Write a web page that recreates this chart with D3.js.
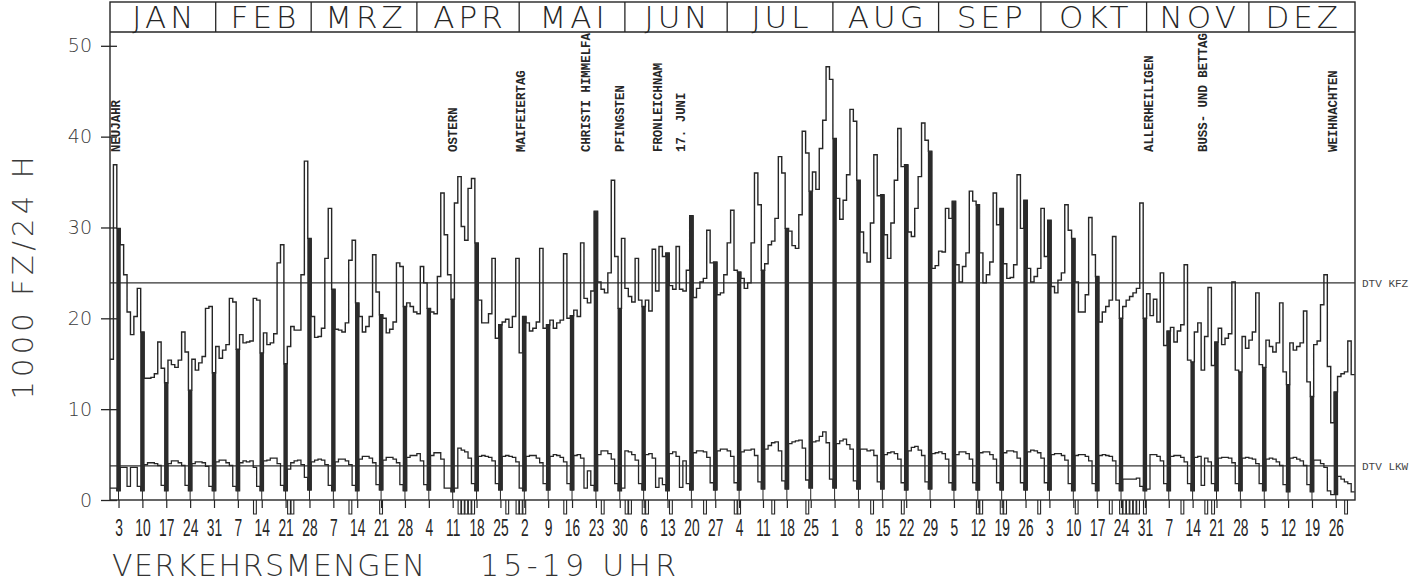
<!DOCTYPE html>
<html>
<head>
<meta charset="utf-8">
<script src="https://cdn.jsdelivr.net/npm/d3@7"></script>
<style>
  body { margin: 0; background: #fff; }
</style>
</head>
<body>
<div id="chart"></div>
<script>
// daily KFZ (1000 Fz / 24 h), 1982, rows = weeks Mon..Sun (first row Fri..Sun)
const kfz = [
  15.5, 36.9, 29.9,
  28.1, 24.8, 20.7, 18.2, 20.2, 23.3, 18.5,
  13.4, 13.4, 13.5, 13.9, 17.4, 14.5, 12.9,
  15.4, 14.9, 14.6, 15.4, 18.5, 16.3, 12.1,
  15.5, 14.3, 15.1, 15.8, 21.1, 21.3, 14.0,
  16.9, 15.6, 16.5, 17.1, 22.2, 21.8, 16.6,
  18.2, 17.3, 17.4, 17.5, 22.2, 22.0, 16.2,
  18.4, 17.1, 17.3, 18.3, 26.1, 28.1, 15.0,
  16.9, 19.1, 18.7, 18.7, 24.8, 37.3, 28.8,
  20.2, 17.9, 18.0, 18.9, 26.6, 32.1, 23.2,
  18.8, 18.7, 18.5, 19.5, 26.4, 28.6, 21.7,
  20.2, 18.5, 19.1, 20.2, 27.0, 22.9, 20.4,
  20.0, 18.4, 18.8, 19.6, 26.1, 25.7, 21.3,
  21.7, 21.3, 20.7, 20.5, 25.7, 23.9, 21.1,
  20.7, 20.5, 24.6, 33.8, 29.2, 24.8, 22.1,
  32.7, 35.6, 30.1, 28.6, 34.3, 35.4, 28.3,
  22.0, 19.5, 19.5, 20.5, 26.6, 17.8, 19.3,
  19.6, 19.9, 19.0, 20.2, 26.6, 16.2, 20.2,
  19.5, 18.6, 18.9, 19.6, 27.7, 18.9, 19.3,
  19.8, 18.9, 19.5, 19.8, 27.1, 20.0, 20.3,
  20.9, 20.2, 28.3, 22.2, 21.7, 23.0, 31.8,
  24.0, 23.2, 22.8, 25.0, 35.2, 26.8, 21.1,
  28.8, 23.3, 22.4, 21.8, 26.6, 22.0, 21.3,
  22.0, 20.8, 27.6, 23.0, 27.9, 26.8, 27.2,
  23.6, 23.2, 27.9, 23.2, 23.0, 25.3, 31.3,
  22.3, 23.3, 24.0, 24.4, 29.7, 26.1, 26.2,
  22.6, 22.8, 24.8, 28.3, 31.9, 25.3, 25.1,
  24.4, 23.3, 23.9, 28.3, 36.0, 32.5, 25.3,
  26.0, 28.1, 28.5, 31.0, 37.8, 36.0, 29.9,
  29.6, 28.0, 27.7, 31.4, 40.6, 38.2, 34.0,
  36.1, 34.2, 38.7, 41.8, 47.7, 46.3, 39.8,
  33.2, 30.9, 33.0, 35.8, 43.0, 41.7, 35.2,
  29.5, 27.2, 26.2, 30.5, 38.0, 33.5, 33.6,
  29.2, 26.6, 30.5, 35.2, 40.9, 36.7, 36.9,
  29.5, 29.0, 32.1, 35.6, 41.5, 39.6, 38.4,
  25.5, 25.8, 27.4, 27.3, 32.1, 31.0, 32.9,
  25.9, 24.0, 25.7, 27.2, 34.0, 32.9, 32.5,
  27.2, 23.9, 24.8, 26.2, 33.8, 30.3, 32.1,
  26.0, 24.4, 24.5, 25.9, 35.8, 29.9, 33.0,
  25.5, 24.0, 24.6, 25.5, 32.1, 26.8, 30.8,
  23.5, 22.8, 24.2, 25.0, 32.5, 29.7, 28.8,
  24.0, 20.7, 20.7, 22.6, 31.1, 27.0, 24.6,
  19.6, 20.7, 21.3, 22.0, 29.0, 22.0, 20.0,
  21.3, 22.0, 22.4, 22.8, 23.3, 32.7, 20.0,
  22.7, 20.3, 22.1, 19.6, 25.0, 17.0, 18.6,
  19.0, 17.4, 18.6, 19.3, 25.9, 15.4, 15.2,
  18.5, 19.5, 14.3, 18.0, 23.4, 14.8, 17.4,
  18.9, 17.1, 17.8, 18.3, 24.0, 14.3, 14.1,
  18.0, 16.7, 17.6, 18.5, 22.8, 14.9, 14.6,
  17.6, 16.9, 16.3, 17.3, 21.7, 14.1, 12.7,
  17.3, 16.5, 16.9, 17.3, 20.8, 13.0, 11.4,
  17.1, 17.5, 21.5, 24.8, 14.7, 8.5, 11.9,
  13.6, 13.9, 14.1, 17.5, 13.8
];

// daily LKW, same layout
const lkw = [
  1.3, 1.3, 1.0,
  3.6, 3.6, 1.5, 3.6, 3.6, 1.5, 1.0,
  3.9, 4.1, 4.1, 4.0, 3.8, 1.6, 1.0,
  4.0, 4.3, 4.3, 4.1, 3.8, 1.6, 1.0,
  4.0, 4.2, 4.2, 4.1, 3.7, 1.5, 1.0,
  4.2, 4.4, 4.4, 4.1, 3.8, 1.5, 1.0,
  4.1, 4.3, 4.2, 4.3, 3.6, 1.5, 1.0,
  4.3, 4.4, 4.6, 4.6, 4.0, 1.6, 1.0,
  3.4, 4.1, 4.3, 4.4, 3.9, 2.5, 1.1,
  4.2, 4.4, 4.5, 4.4, 3.9, 1.6, 1.0,
  4.2, 4.5, 4.5, 4.3, 3.9, 1.6, 1.0,
  4.5, 4.8, 4.8, 4.6, 4.1, 1.7, 1.1,
  4.4, 4.7, 4.7, 4.5, 4.1, 1.7, 1.0,
  4.7, 4.9, 4.9, 5.1, 4.3, 1.7, 1.1,
  4.9, 5.2, 5.2, 4.5, 1.3, 1.3, 0.9,
  1.3, 5.7, 5.5, 5.3, 4.6, 1.8, 1.0,
  4.8, 4.9, 4.8, 4.7, 4.3, 1.8, 1.1,
  4.8, 4.9, 4.8, 4.7, 4.2, 1.3, 1.0,
  4.8, 4.9, 4.9, 4.6, 4.1, 1.8, 1.1,
  4.8, 5.0, 4.9, 4.7, 4.2, 1.8, 1.1,
  4.9, 5.0, 4.6, 1.3, 3.2, 1.6, 1.0,
  5.0, 5.4, 5.4, 5.1, 4.5, 1.8, 1.0,
  1.3, 5.4, 5.3, 5.0, 4.4, 1.8, 1.1,
  5.0, 5.1, 4.6, 1.4, 2.4, 1.7, 1.0,
  5.1, 5.3, 4.8, 1.4, 4.3, 1.8, 1.1,
  5.2, 5.4, 5.4, 5.3, 4.7, 1.9, 1.1,
  5.4, 5.6, 5.6, 5.4, 4.8, 1.9, 1.1,
  5.3, 5.5, 5.5, 5.6, 4.9, 2.0, 1.2,
  5.6, 6.0, 6.3, 6.4, 5.4, 2.1, 1.2,
  6.2, 6.4, 6.5, 6.6, 5.7, 2.2, 1.3,
  6.4, 6.5, 7.0, 7.5, 6.3, 2.3, 1.3,
  6.2, 6.5, 6.7, 6.1, 5.6, 2.1, 1.2,
  5.6, 5.6, 5.4, 5.5, 4.9, 2.0, 1.2,
  5.0, 5.2, 5.3, 5.1, 4.5, 1.9, 1.1,
  5.4, 5.8, 5.9, 5.5, 4.9, 2.0, 1.2,
  5.1, 5.2, 5.3, 5.1, 4.5, 1.9, 1.1,
  5.0, 5.3, 5.3, 5.1, 4.5, 1.9, 1.1,
  5.2, 5.3, 5.3, 5.0, 4.5, 1.9, 1.1,
  5.2, 5.4, 5.4, 5.3, 4.6, 1.9, 1.1,
  5.3, 5.5, 5.4, 5.2, 4.6, 1.9, 1.1,
  5.0, 5.1, 5.1, 4.9, 4.4, 1.8, 1.0,
  4.9, 5.0, 5.0, 4.8, 4.3, 1.8, 1.0,
  4.9, 5.0, 4.9, 4.8, 4.3, 1.8, 1.0,
  2.3, 2.3, 2.3, 2.3, 2.4, 1.5, 1.0,
  1.2, 5.0, 5.0, 4.8, 4.3, 1.8, 1.0,
  4.8, 4.9, 4.9, 4.7, 4.2, 1.8, 1.0,
  4.7, 4.8, 1.6, 4.6, 4.2, 1.8, 1.0,
  4.6, 4.7, 4.7, 4.6, 4.1, 1.8, 1.0,
  4.6, 4.7, 4.6, 4.5, 4.0, 1.8, 1.0,
  4.5, 4.6, 4.5, 4.2, 3.8, 1.7, 0.9,
  4.6, 4.7, 4.5, 4.3, 3.8, 1.7, 0.9,
  4.4, 4.4, 4.0, 3.6, 1.0, 0.6, 0.6,
  2.6, 2.3, 2.0, 1.8, 0.9
];

const dtvKfz = 23.9;
const dtvLkw = 3.75;

const monthNames = ['JAN', 'FEB', 'MRZ', 'APR', 'MAI', 'JUN', 'JUL', 'AUG', 'SEP', 'OKT', 'NOV', 'DEZ'];
const monthDays = [31, 28, 31, 30, 31, 30, 31, 31, 30, 31, 30, 31];

// Sundays (day of year) and their tick labels
const sundays = d3.range(3, 366, 7);
const sundayLabels = [3, 10, 17, 24, 31, 7, 14, 21, 28, 7, 14, 21, 28, 4, 11, 18, 25,
  2, 9, 16, 23, 30, 6, 13, 20, 27, 4, 11, 18, 25, 1, 8, 15, 22, 29,
  5, 12, 19, 26, 3, 10, 17, 24, 31, 7, 14, 21, 28, 5, 12, 19, 26];

const holidayNames = ['NEUJAHR', 'OSTERN', 'MAIFEIERTAG', 'CHRISTI HIMMELFAHRT', 'PFINGSTEN',
  'FRONLEICHNAM', '17. JUNI', 'ALLERHEILIGEN', 'BUSS- UND BETTAG', 'WEIHNACHTEN'];
const holidayDays = [1, 101, 121, 140, 150, 161, 168, 305, 321, 359];

// days marked below the axis
const markedDays = [43, 53, 54, 71, 80, 103, 104, 105, 106, 107, 117, 120, 121, 122, 134, 145,
  152, 153, 157, 158, 165, 175, 184, 185, 195, 205, 224, 233, 255, 256, 262, 263, 273, 284,
  294, 297, 298, 299, 300, 301, 302, 304, 315, 322, 324, 363];

const yTicks = [0, 10, 20, 30, 40, 50];

(function () {
  const width = 1425;
  const height = 582;
  const pLeft = 110, pRight = 1355, pTop = 2, headBottom = 32, base = 500;
  const ink = '#262626';
  const plotFont = '"DejaVu Sans", sans-serif';

  const svg = d3.select('#chart').append('svg')
    .attr('width', width)
    .attr('height', height)
    .style('display', 'block');

  const x = d3.scaleLinear().domain([0, 365]).range([pLeft, pRight - 0.4]);
  const y = d3.scaleLinear().domain([0, 50]).range([base, 45.8]);

  svg.append('defs').append('clipPath').attr('id', 'plotClip')
    .append('rect').attr('x', pLeft).attr('y', headBottom)
    .attr('width', pRight - pLeft).attr('height', base - headBottom);

  // frame + header band
  svg.append('rect')
    .attr('x', pLeft).attr('y', pTop)
    .attr('width', pRight - pLeft).attr('height', base - pTop)
    .attr('fill', 'none').attr('stroke', ink).attr('stroke-width', 1.4);
  svg.append('line')
    .attr('x1', pLeft).attr('x2', pRight).attr('y1', headBottom).attr('y2', headBottom)
    .attr('stroke', ink).attr('stroke-width', 1.4);

  const monthStarts = d3.cumsum([0].concat(monthDays.slice(0, -1)));
  svg.append('g').selectAll('line')
    .data(Array.from(monthStarts).slice(1))
    .join('line')
    .attr('x1', d => x(d)).attr('x2', d => x(d))
    .attr('y1', pTop).attr('y2', headBottom)
    .attr('stroke', ink).attr('stroke-width', 1.3);

  svg.append('g').selectAll('text')
    .data(monthNames)
    .join('text')
    .attr('x', (d, i) => x(monthStarts[i] + monthDays[i] / 2) + 2)
    .attr('y', 28)
    .attr('text-anchor', 'middle')
    .attr('font-family', plotFont)
    .attr('font-weight', 200)
    .attr('font-size', 31)
    .attr('letter-spacing', 4)
    .attr('fill', ink)
    .text(d => d);

  // y axis
  const yAxis = d3.axisLeft(y).tickValues(yTicks).tickSize(9).tickPadding(9);
  svg.append('g')
    .attr('transform', `translate(${pLeft},0)`)
    .call(yAxis)
    .call(g => g.select('.domain').remove())
    .call(g => g.selectAll('.tick line').attr('x1', 7).attr('stroke', ink).attr('stroke-width', 1.3))
    .call(g => g.selectAll('.tick text')
      .attr('font-family', plotFont).attr('font-weight', 200)
      .attr('font-size', 19).attr('fill', '#3a3a3a'));

  svg.append('text')
    .attr('transform', 'translate(23,278) rotate(-90)')
    .attr('dy', '0.35em')
    .attr('text-anchor', 'middle')
    .attr('font-family', plotFont)
    .attr('font-weight', 200)
    .attr('font-size', 29)
    .attr('textLength', 243)
    .attr('lengthAdjust', 'spacing')
    .attr('fill', '#3a3a3a')
    .text('1000 FZ/24 H');

  // x axis (Sundays)
  const xAxis = d3.axisBottom(x)
    .tickValues(sundays.map(d => d - 0.5))
    .tickSize(8)
    .tickPadding(12)
    .tickFormat((d, i) => sundayLabels[i]);
  svg.append('g')
    .attr('transform', `translate(0,${base})`)
    .call(xAxis)
    .call(g => g.select('.domain').remove())
    .call(g => g.selectAll('.tick line').attr('stroke', ink).attr('stroke-width', 1.2))
    .call(g => g.selectAll('.tick text')
      .attr('transform', 'scale(0.6,1)')
      .attr('font-family', '"Liberation Sans Narrow", "Liberation Sans", sans-serif')
      .attr('font-size', 23).attr('fill', ink));

  // marks below the axis
  svg.append('g').selectAll('path')
    .data(markedDays)
    .join('path')
    .attr('d', d => `M${x(d - 1) + 0.3},${base}V${base + 14}H${x(d) - 0.3}V${base}`)
    .attr('fill', 'none').attr('stroke', ink).attr('stroke-width', 1.1);

  const plot = svg.append('g').attr('clip-path', 'url(#plotClip)');

  // DTV reference lines
  plot.selectAll('line.dtv')
    .data([dtvKfz, dtvLkw])
    .join('line')
    .attr('class', 'dtv')
    .attr('x1', pLeft).attr('x2', pRight)
    .attr('y1', d => y(d)).attr('y2', d => y(d))
    .attr('stroke', '#333').attr('stroke-width', 1.3);

  // step lines
  const stepPts = arr => arr.map((v, i) => [i, v]).concat([[arr.length, arr[arr.length - 1]]]);
  const step = d3.line().x(d => x(d[0])).y(d => y(d[1])).curve(d3.curveStepAfter);

  plot.append('path')
    .datum(stepPts(lkw))
    .attr('d', step)
    .attr('fill', 'none').attr('stroke', ink).attr('stroke-width', 1.3);

  plot.append('path')
    .datum(stepPts(kfz))
    .attr('d', step)
    .attr('fill', 'none').attr('stroke', ink).attr('stroke-width', 1.4);

  // Sunday bars
  plot.selectAll('line.stem')
    .data(sundays)
    .join('line')
    .attr('class', 'stem')
    .attr('x1', d => x(d - 0.5)).attr('x2', d => x(d - 0.5))
    .attr('y1', d => y(lkw[d - 1])).attr('y2', base)
    .attr('stroke', ink).attr('stroke-width', 1);

  plot.selectAll('rect.sun')
    .data(sundays)
    .join('rect')
    .attr('class', 'sun')
    .attr('x', d => x(d - 0.5) - 2.2)
    .attr('width', 4.4)
    .attr('y', d => y(kfz[d - 1]))
    .attr('height', d => y(lkw[d - 1]) - y(kfz[d - 1]))
    .attr('fill', '#2b2b2b');

  // holiday labels
  plot.selectAll('text.hol')
    .data(holidayNames)
    .join('text')
    .attr('class', 'hol')
    .attr('transform', (d, i) => `translate(${Math.max(x(holidayDays[i] - 0.5), 116)},152) rotate(-90)`)
    .attr('dy', '0.35em')
    .attr('font-family', '"Liberation Mono", "DejaVu Sans Mono", monospace')
    .attr('font-weight', 'bold')
    .attr('font-size', 12.4)
    .attr('fill', ink)
    .text(d => d);

  // DTV labels
  svg.selectAll('text.dtvlab')
    .data([['DTV KFZ', dtvKfz], ['DTV LKW', dtvLkw]])
    .join('text')
    .attr('class', 'dtvlab')
    .attr('x', 1362)
    .attr('y', d => y(d[1]) + 4)
    .attr('font-family', '"Liberation Mono", monospace')
    .attr('font-size', 11)
    .attr('fill', '#444')
    .text(d => d[0]);

  // title
  svg.append('text')
    .attr('x', 112).attr('y', 576)
    .attr('font-family', plotFont).attr('font-weight', 200)
    .attr('font-size', 30)
    .attr('textLength', 313).attr('lengthAdjust', 'spacing')
    .attr('fill', '#333')
    .text('VERKEHRSMENGEN');
  svg.append('text')
    .attr('x', 480).attr('y', 576)
    .attr('font-family', plotFont).attr('font-weight', 200)
    .attr('font-size', 30)
    .attr('textLength', 196).attr('lengthAdjust', 'spacing')
    .attr('fill', '#333')
    .text('15-19 UHR');
})();
</script>
</body>
</html>
